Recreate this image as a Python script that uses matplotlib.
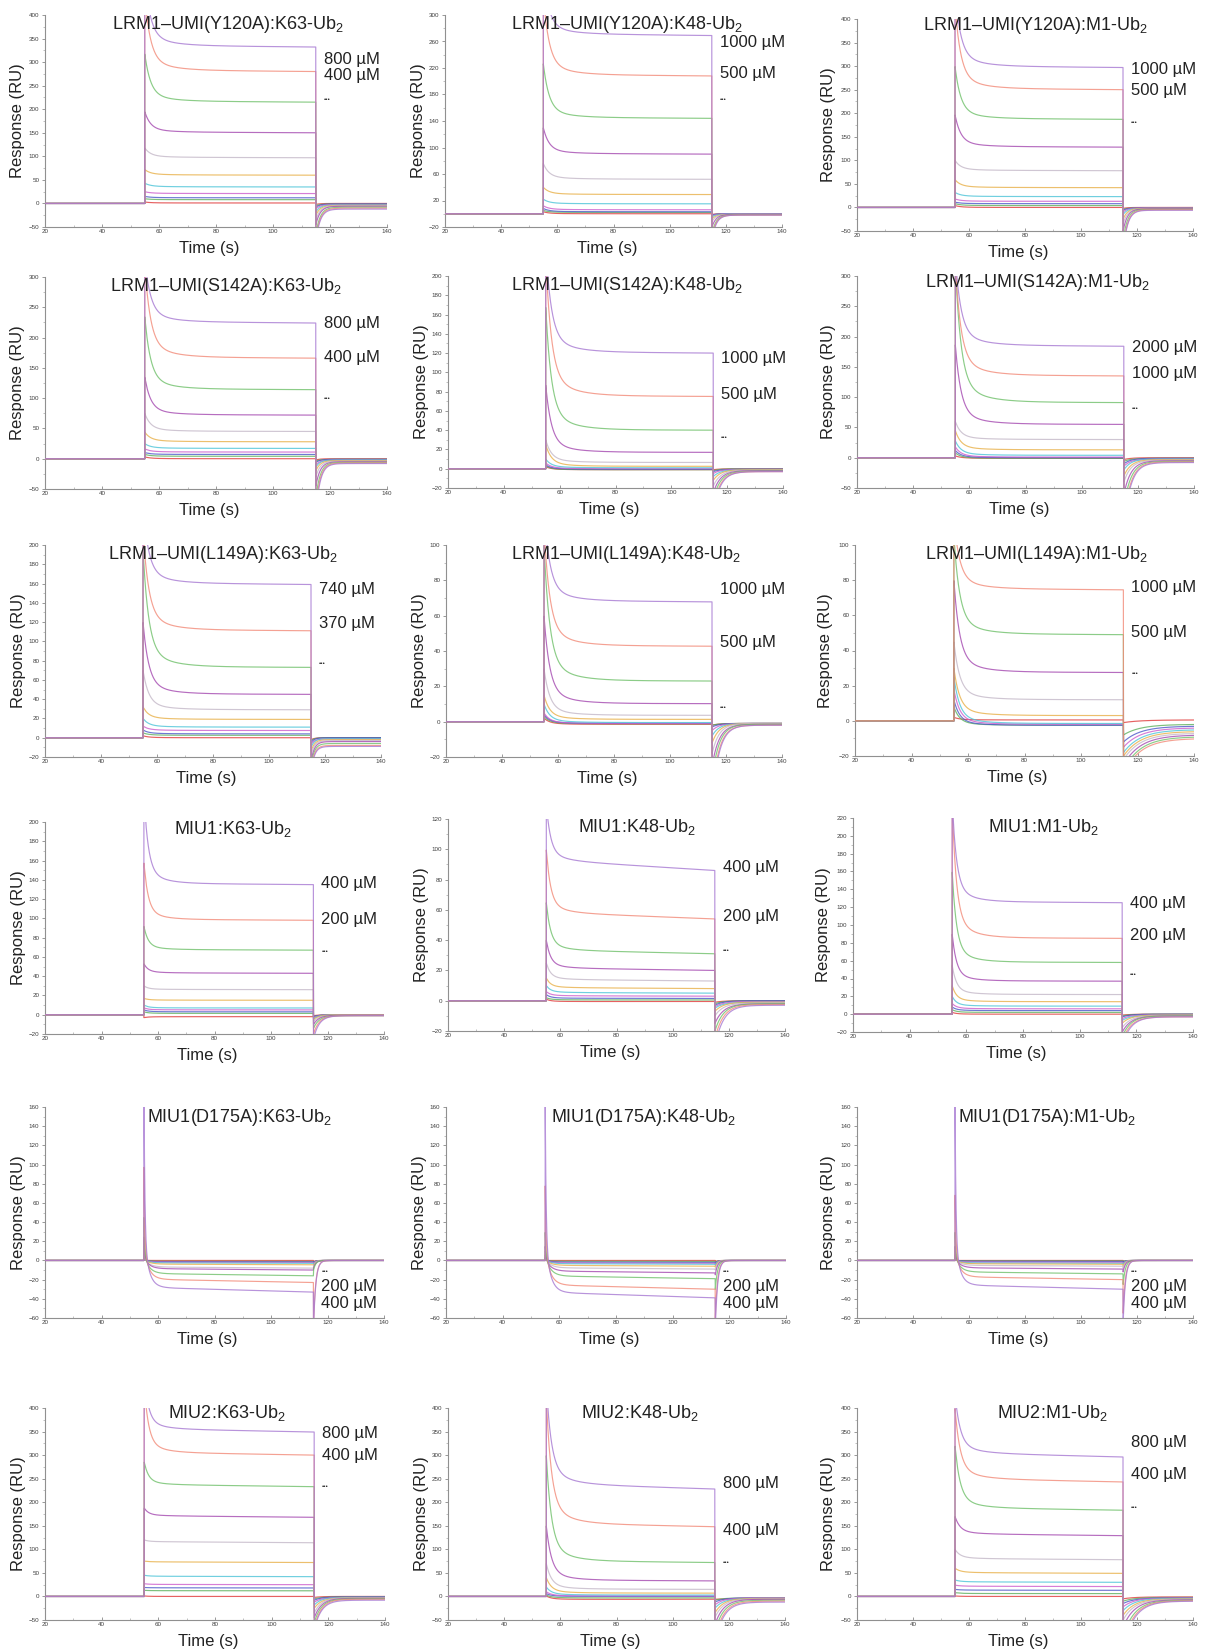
import numpy as np
import matplotlib
matplotlib.use("Agg")
import matplotlib.pyplot as plt
from matplotlib.ticker import MultipleLocator

plt.rcParams['font.family'] = ['Liberation Sans', 'DejaVu Sans']
plt.rcParams['mathtext.fontset'] = 'custom'
plt.rcParams['mathtext.rm'] = 'Liberation Sans'
plt.rcParams['mathtext.it'] = 'Liberation Sans'

# ---------------- data ----------------
# each row = one concentration curve: [peak at injection, plateau at end of injection,
#                                      minimum right after injection, level at 140 s]
Y120A_K63 = [[480, 332, -80, -12], [440, 280, -75, -10], [318, 215, -65, -8], [195, 150, -45, -6],
             [118, 97, -35, -5], [72, 60, -25, -4], [43, 35, -18, -3], [25, 21, -12, -2],
             [15, 12, -8, -1], [10, 8, -5, -1], [3, 1, -2, 0]]
Y120A_K48 = [[360, 269, -40, -2], [330, 208, -35, -2], [227, 144, -30, -1.5], [130, 90, -20, -1],
             [76, 52, -12, -1], [40, 29, -8, -1], [22, 15, -5, -0.5], [12, 6, -3, 0],
             [8, 3, -2, 0], [5, 2, -2, 0], [3, 0, -1, 0]]
Y120A_M1 = [[460, 297, -95, -6], [430, 250, -90, -5], [300, 187, -70, -4], [197, 128, -50, -3],
            [100, 78, -35, -3], [59, 42, -25, -2], [32, 23, -15, -2], [18, 13, -10, -1],
            [11, 8, -6, -1], [8, 4, -4, -1], [4, 0, -2, 0]]
S142A_K63 = [[330, 224, -90, -8], [320, 166, -80, -7], [235, 114, -65, -6], [135, 72, -45, -5],
             [75, 45, -30, -4], [44, 28, -20, -3], [25, 17, -14, -2], [16, 11, -10, -2],
             [10, 7, -6, -1], [7, 4, -4, -1], [3, 0, -2, 0]]
S142A_K48 = [[230, 120, -45, -3], [220, 75, -40, -3], [168, 40, -32, -2.5], [87, 17, -25, -2],
             [30, 6.5, -18, -1.5], [25, 2.5, -12, -1], [10, 1, -8, -1], [6, 0, -5, -0.5],
             [4, -0.5, -3, -0.5], [3, -1, -2, 0], [2, -1, -1, 0]]
S142A_M1 = [[330, 184, -110, -8], [320, 135, -100, -7], [320, 91, -80, -6], [187, 55, -60, -5],
            [60, 30, -40, -4], [45, 13, -30, -3], [28, 4, -20, -2], [18, 1, -14, -2],
            [12, 0, -10, -1], [8, -1, -6, -1], [3, -1, -3, 0]]
L149A_K63 = [[240, 159, -35, -9], [215, 111, -32, -8], [195, 73, -28, -6], [120, 45, -24, -4],
             [70, 29, -18, -3], [32, 19, -14, -2], [20, 11, -10, -1], [12, 7.5, -7, -1],
             [8, 4, -5, 0], [5, 2.5, -3, 0], [2, 0, -2, 0]]
L149A_K48 = [[120, 67.8, -45, -2], [110, 42.7, -40, -2], [100, 23, -32, -1.5], [60, 10.2, -25, -1.5],
             [30, 3.6, -18, -1], [15, 1.3, -12, -1], [10, -0.5, -8, -1], [5, -1, -5, -1],
             [4, -1, -3, -1], [3, -1.2, -2, -1], [2, -1.5, -2, -1]]
L149A_M1 = [[115, 74.5, -30, -10], [105, 49, -28, -9], [80, 27.5, -25, -8], [45, 12, -22, -7],
            [30, 3, -20, -6], [25, -1.5, -18, -5], [18, -2, -15, -4], [12, -2.5, -12, -3],
            [8, -2.5, -8, -2], [2, 0.5, -1, 0.5]]
MIU1_K63 = [[230, 135, -25, -1], [158, 98, -20, -1], [92, 67, -14, -1], [53, 43, -10, -0.5],
            [30, 26, -7, -0.5], [17, 15, -5, 0], [10, 7, -4, 0], [7, 5, -3, 0],
            [5, 3, -2, 0], [3, 1.4, -2, 0], [-3, -2, -1, 0]]
MIU1_K48 = [[130, 86, -30, -3], [100, 54, -25, -2.5], [65, 31, -20, -2], [40, 20, -15, -2],
            [25, 13, -10, -1.5], [15, 8, -7, -1], [10, 5, -5, -1], [6, 3, -4, -0.5],
            [4, 1.5, -3, 0], [2, 0.5, -2, 0], [1, -0.5, -1, 0]]
MIU1_M1 = [[240, 125, -35, -3], [235, 85, -30, -3], [160, 58, -25, -2], [90, 37, -20, -2],
           [55, 22, -15, -1.5], [32, 14, -10, -1], [20, 9, -7, -1], [12, 6, -5, -0.5],
           [8, 4, -3, 0], [5, 2, -2, 0], [2, 0, -1, 0]]
D175A_K63 = [[200, -33, -70, 0], [100, -23, -65, 0], [46, -16, -10, 0], [25, -10, -8, 0],
             [15, -8, -6, 0], [10, -4.5, -5, 0], [6, -3, -4, 0], [4, -2, -3, 0],
             [3, -1.5, -2, 0], [2, -1, -2, 0], [1, 0, -1, 0]]
D175A_K48 = [[170, -39, -70, 0], [80, -30, -60, 0], [30, -19, -30, 0], [15, -13, -15, 0],
             [10, -9, -10, 0], [6, -6, -7, 0], [4, -4, -5, 0], [3, -3, -4, 0],
             [2, -2, -3, 0], [1, -1, -2, 0], [0, 0, -1, 0]]
D175A_M1 = [[170, -30, -65, 0], [70, -20, -55, 0], [30, -14, -25, 0], [15, -9, -12, 0],
            [10, -6, -8, 0], [6, -4, -6, 0], [4, -3, -4, 0], [3, -2, -3, 0],
            [2, -1, -2, 0], [1, -0.5, -1, 0], [0, 0, -1, 0]]
MIU2_K63 = [[470, 349, -70, -8], [450, 300, -65, -6], [286, 233, -55, -5], [188, 168, -45, -4],
            [120, 114, -35, -3], [75, 72, -25, -3], [45, 42, -18, -2], [27, 25, -12, -2],
            [19, 18, -8, -1], [13, 12, -5, -1], [1, 0, -2, 0]]
MIU2_K48 = [[450, 228, -100, -12], [420, 148, -90, -10], [300, 72, -75, -8], [150, 33, -60, -6],
            [70, 15, -45, -5], [40, 7, -35, -4], [20, 3, -25, -4], [10, 1, -18, -3],
            [6, 0, -12, -3], [3, -3, -8, -3], [1, -6, -6, -5]]
MIU2_M1 = [[430, 296, -110, -10], [400, 243, -100, -9], [320, 183, -85, -8], [170, 129, -65, -7],
           [100, 78, -50, -6], [60, 49, -40, -5], [35, 30, -30, -4], [24, 21, -22, -3],
           [15, 13, -15, -3], [8, 6, -10, -2], [1, 0, -5, -1]]

titles = [
    ["LRM1–UMI(Y120A):K63-Ub$_2$", "LRM1–UMI(Y120A):K48-Ub$_2$", "LRM1–UMI(Y120A):M1-Ub$_2$"],
    ["LRM1–UMI(S142A):K63-Ub$_2$", "LRM1–UMI(S142A):K48-Ub$_2$", "LRM1–UMI(S142A):M1-Ub$_2$"],
    ["LRM1–UMI(L149A):K63-Ub$_2$", "LRM1–UMI(L149A):K48-Ub$_2$", "LRM1–UMI(L149A):M1-Ub$_2$"],
    ["MIU1:K63-Ub$_2$", "MIU1:K48-Ub$_2$", "MIU1:M1-Ub$_2$"],
    ["MIU1(D175A):K63-Ub$_2$", "MIU1(D175A):K48-Ub$_2$", "MIU1(D175A):M1-Ub$_2$"],
    ["MIU2:K63-Ub$_2$", "MIU2:K48-Ub$_2$", "MIU2:M1-Ub$_2$"],
]
curves = [
    [Y120A_K63, Y120A_K48, Y120A_M1],
    [S142A_K63, S142A_K48, S142A_M1],
    [L149A_K63, L149A_K48, L149A_M1],
    [MIU1_K63, MIU1_K48, MIU1_M1],
    [D175A_K63, D175A_K48, D175A_M1],
    [MIU2_K63, MIU2_K48, MIU2_M1],
]
# y-axis (min, max, step)
yaxes = [
    [(-50, 400, 50), (-20, 300, 40), (-50, 400, 50)],
    [(-50, 300, 50), (-20, 200, 20), (-50, 300, 50)],
    [(-20, 200, 20), (-20, 100, 20), (-20, 100, 20)],
    [(-20, 200, 20), (-20, 120, 20), (-20, 220, 20)],
    [(-60, 160, 20), (-60, 160, 20), (-60, 160, 20)],
    [(-50, 400, 50), (-50, 400, 50), (-50, 400, 50)],
]
conc_labels = [
    [["800 µM", "400 µM"], ["1000 µM", "500 µM"], ["1000 µM", "500 µM"]],
    [["800 µM", "400 µM"], ["1000 µM", "500 µM"], ["2000 µM", "1000 µM"]],
    [["740 µM", "370 µM"], ["1000 µM", "500 µM"], ["1000 µM", "500 µM"]],
    [["400 µM", "200 µM"], ["400 µM", "200 µM"], ["400 µM", "200 µM"]],
    [["200 µM", "400 µM"], ["200 µM", "400 µM"], ["200 µM", "400 µM"]],
    [["800 µM", "400 µM"], ["800 µM", "400 µM"], ["800 µM", "400 µM"]],
]
t_on, t_off = 55.0, 115.0
x_min, x_max = 20, 140

# ---------------- layout / style ----------------
W, H = 1206, 1652
boxes = [  # left, right, top, bottom in pixels
    [(45, 387, 15, 227), (445, 782, 15, 227), (857, 1193, 19, 231)],
    [(45, 387, 277, 489), (448, 783, 276, 488), (857, 1194, 276, 488)],
    [(45, 381, 545, 757), (446, 782, 545, 757), (855, 1194, 545, 756)],
    [(45, 384, 822, 1034), (448, 785, 819, 1031), (853, 1193, 818, 1032)],
    [(45, 384, 1107, 1318), (446, 786, 1107, 1318), (857, 1193, 1107, 1318)],
    [(45, 385, 1408, 1620), (448, 785, 1408, 1620), (857, 1193, 1408, 1620)],
]
label_y = [  # y (axes frac) of first label, second label, dots
    [(0.79, 0.715, 0.60), (0.868, 0.726, 0.60), (0.764, 0.665, 0.51)],
    [(0.78, 0.62, 0.425), (0.613, 0.44, 0.24), (0.665, 0.54, 0.377)],
    [(0.79, 0.63, 0.44), (0.79, 0.54, 0.235), (0.80, 0.585, 0.39)],
    [(0.71, 0.54, 0.39), (0.77, 0.54, 0.38), (0.60, 0.45, 0.27)],
    [(0.147, 0.07, 0.22), (0.147, 0.07, 0.22), (0.147, 0.07, 0.22)],
    [(0.88, 0.775, 0.63), (0.646, 0.42, 0.27), (0.835, 0.685, 0.53)],
]
title_pos = [
    [(0.534, 0.955, 'center'), (0.54, 0.955, 'center'), (0.53, 0.97, 'center')],
    [(0.53, 0.953, 'center'), (0.534, 0.957, 'center'), (0.534, 0.967, 'center')],
    [(0.53, 0.953, 'center'), (0.534, 0.953, 'center'), (0.534, 0.955, 'center')],
    [(0.555, 0.967, 'center'), (0.56, 0.96, 'center'), (0.56, 0.96, 'center')],
    [(0.30, 0.95, 'left'), (0.31, 0.95, 'left'), (0.30, 0.95, 'left')],
    [(0.535, 0.975, 'center'), (0.57, 0.975, 'center'), (0.58, 0.975, 'center')],
]
# kinetics shape per panel: (tau_on, tau_spike, tau_off, drift)
shape = [
    [(0.02, 2.0, 1.5, 0.01), (0.02, 2.0, 1.5, 0.01), (0.02, 2.0, 1.5, 0.01)],
    [(0.02, 2.0, 1.5, 0.01), (0.02, 2.0, 2.5, 0.01), (0.02, 2.0, 2.5, 0.01)],
    [(0.02, 2.0, 1.2, 0.01), (0.02, 2.0, 2.5, 0.01), (0.02, 2.0, 6.0, 0.01)],
    [(0.02, 1.5, 2.0, 0.01), (0.02, 1.5, 3.0, 0.08), (0.02, 1.5, 3.0, 0.01)],
    [(2.0, 0.3, 0.8, -0.15), (2.0, 0.3, 0.8, -0.15), (2.0, 0.3, 0.8, -0.15)],
    [(0.02, 1.5, 2.5, 0.02), (0.02, 1.8, 3.0, 0.05), (0.02, 1.8, 4.0, 0.03)],
]
colors = ['#a678d2', '#f28a78', '#6fc06a', '#a448b0', '#c4b8c8', '#e8b048',
          '#4cc4d8', '#cc5ccc', '#4a58c8', '#5cb05c', '#e03a3a']

t_pre = np.linspace(x_min, t_on, 40)
t_ass = t_on + np.concatenate([[0.0], np.geomspace(0.01, t_off - t_on, 400)])
t_dis = t_off + np.concatenate([[0.0], np.geomspace(0.05, x_max - t_off, 250)])


def curve(row, tau_on, tau_s, tau_off, drift):
    peak, plat, dip, final = row
    dt = t_ass - t_on
    p_t = plat * (1 + drift * (t_off - t_ass) / (t_off - t_on))
    on = 1 - np.exp(-dt / tau_on)
    dec = 0.85 * np.exp(-dt / tau_s) + 0.15 * np.exp(-dt / (4 * tau_s))
    y_ass = p_t * on * (1 - dec) + peak * dec
    y_ass[0] = 0.0
    ddt = t_dis - t_off
    y_dis = final + (dip - final) * np.exp(-(ddt - 0.05) / tau_off)
    y_dis[0] = y_ass[-1]
    t = np.concatenate([t_pre, t_ass, t_dis])
    y = np.concatenate([np.zeros_like(t_pre), y_ass, y_dis])
    return t, y


fig = plt.figure(figsize=(W / 100, H / 100), dpi=100)
for r in range(6):
    for c in range(3):
        l, rr, tp, bt = boxes[r][c]
        ax = fig.add_axes([l / W, 1 - bt / H, (rr - l) / W, (bt - tp) / H])
        tau_on, tau_s, tau_off, drift = shape[r][c]
        data = curves[r][c]
        offset = 1 if len(data) == 10 else 0
        for i, row in enumerate(data):
            t, y = curve(row, tau_on, tau_s, tau_off, drift)
            ax.plot(t, y, color=colors[i + offset], lw=0.85, alpha=0.8, zorder=20 - i)
        lo, hi, st = yaxes[r][c]
        ax.set_ylim(lo, hi)
        ax.set_xlim(x_min, x_max)
        ax.set_yticks(np.arange(lo, hi + 0.1, st))
        ax.set_xticks(np.arange(x_min, x_max + 1, 20))
        ax.xaxis.set_minor_locator(MultipleLocator(10))
        ax.yaxis.set_minor_locator(MultipleLocator(st / 2))
        for s in ['top', 'right']:
            ax.spines[s].set_visible(False)
        for s in ['left', 'bottom']:
            ax.spines[s].set_color('#909090')
            ax.spines[s].set_linewidth(0.8)
        ax.tick_params(axis='both', which='major', labelsize=4.5, length=2.5, width=0.5,
                       colors='#707070', labelcolor='#404040', pad=1.5)
        ax.tick_params(axis='both', which='minor', length=1.3, width=0.4, colors='#909090')
        ax.tick_params(axis='x', which='both', direction='in')
        ax.set_facecolor('none')
        # labels
        ylx = -0.079 if c < 2 else -0.086
        ax.text(ylx, 0.5, 'Response (RU)', transform=ax.transAxes, rotation=90,
                ha='center', va='center', fontsize=12, color='#222222')
        ax.text(0.48, -0.10, 'Time (s)', transform=ax.transAxes, ha='center', va='center',
                fontsize=12, color='#222222')
        tx, ty, tha = title_pos[r][c]
        ax.text(tx, ty, titles[r][c], transform=ax.transAxes, ha=tha, va='center',
                fontsize=13, color='#222222', zorder=30)
        ly1, ly2, ly3 = label_y[r][c]
        lx = 0.815
        ax.text(lx, ly1, conc_labels[r][c][0], transform=ax.transAxes, ha='left', va='center',
                fontsize=12, color='#222222')
        ax.text(lx, ly2, conc_labels[r][c][1], transform=ax.transAxes, ha='left', va='center',
                fontsize=12, color='#222222')
        ax.text(lx, ly3, '•••', transform=ax.transAxes, ha='left', va='center',
                fontsize=4.5, color='#222222')

fig.savefig('out.png', dpi=100, facecolor='white')
